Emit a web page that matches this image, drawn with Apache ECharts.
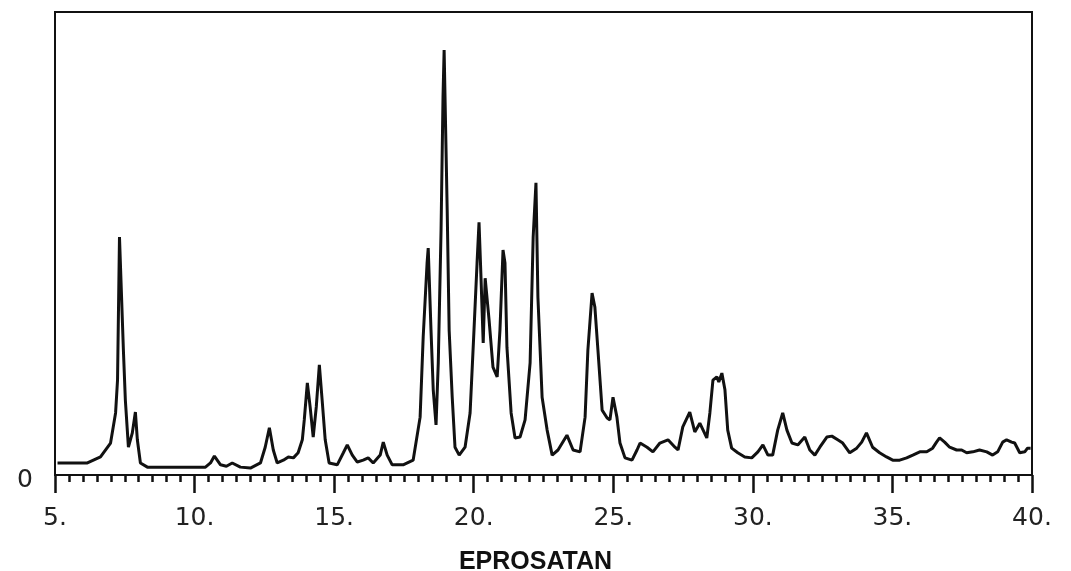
<!DOCTYPE html>
<html>
<head>
<meta charset="utf-8">
<script src="https://cdn.jsdelivr.net/npm/echarts@6/dist/echarts.min.js"></script>
<style>
html,body{margin:0;padding:0;background:#fff;}
#chart{width:1071px;height:571px;}
</style>
</head>
<body>
<div id="chart"></div>
<script>
// 2-theta (degrees)
const twoTheta = [
5.09,6.16,6.63,6.99,7.17,7.24,7.31,7.34,7.45,7.52,7.63,7.77,7.88,7.95,8.06,8.31,
10.39,10.57,10.71,10.93,11.14,11.35,11.64,12.0,12.36,12.53,12.68,12.82,12.96,13.18,13.36,13.54,13.71,13.86,13.93,
14.04,14.14,14.25,14.36,14.47,14.57,14.68,14.82,15.11,15.33,15.47,15.65,15.83,16.04,16.22,16.40,16.65,16.76,16.90,17.08,
17.47,17.83,18.08,18.19,18.33,18.37,18.47,18.55,18.65,18.73,18.83,18.90,18.94,19.05,19.12,19.23,19.33,19.48,19.69,19.87,
20.01,20.12,20.19,20.26,20.34,20.41,20.48,20.55,20.69,20.84,20.94,21.05,21.12,21.19,21.34,21.48,21.66,21.84,
22.02,22.13,22.23,22.30,22.45,22.63,22.81,23.02,23.34,23.56,23.81,23.99,24.09,24.24,24.34,24.45,24.60,24.78,24.88,24.99,
25.13,25.24,25.42,25.67,25.85,25.96,26.21,26.42,26.67,26.96,27.21,27.32,27.49,27.74,27.92,28.10,28.35,28.46,28.57,28.71,
28.78,28.89,29.00,29.10,29.24,29.46,29.71,29.96,30.18,30.36,30.54,30.71,30.89,31.07,31.22,31.40,31.61,31.86,32.04,32.22,
32.40,32.65,32.83,33.04,33.22,33.47,33.72,33.90,34.07,34.29,34.54,34.79,35.01,35.26,35.51,35.73,35.98,36.23,36.44,36.58,
36.69,36.87,37.05,37.30,37.48,37.66,37.88,38.12,38.38,38.59,38.77,38.95,39.09,39.27,39.38,39.56,39.74,39.84,39.95
];
// relative intensity (% of full scale)
const intensity = [
2.6,2.6,3.9,6.9,13.4,20.5,51.4,51.6,27.0,16.2,6.0,9.1,13.6,7.6,2.6,1.7,
1.7,2.6,4.1,2.2,1.9,2.6,1.7,1.5,2.6,6.0,10.2,5.4,2.6,3.2,3.9,3.7,4.8,7.6,11.9,
19.9,14.7,8.2,14.7,23.8,16.2,7.6,2.6,2.2,4.8,6.5,4.3,2.8,3.2,3.7,2.6,4.3,7.1,4.3,2.2,
2.2,3.2,12.5,29.8,45.8,49.0,31.3,18.4,10.8,24.2,52.9,81.6,91.8,57.2,31.3,16.8,6.0,4.3,6.0,13.4,
31.3,45.8,54.6,42.8,28.5,42.5,42.5,33.5,23.3,21.2,31.3,48.6,45.8,27.6,13.4,8.0,8.2,11.9,
24.2,51.4,63.1,38.4,16.8,9.7,4.3,5.4,8.6,5.4,5.0,12.5,27.0,39.3,36.3,27.0,14.0,12.3,11.9,16.8,
12.5,6.9,3.7,3.2,5.4,6.9,6.0,5.0,6.9,7.6,6.0,5.4,10.4,13.6,9.3,11.2,8.0,13.4,20.5,21.2,
20.1,22.0,18.4,9.7,5.8,4.8,3.9,3.7,5.0,6.5,4.3,4.3,9.7,13.4,9.7,6.9,6.5,8.2,5.4,4.3,
6.0,8.2,8.4,7.6,6.9,4.8,5.8,7.1,9.1,6.0,4.8,3.9,3.2,3.2,3.7,4.3,5.0,5.0,5.8,7.1,
8.0,7.1,6.0,5.4,5.4,4.8,5.0,5.4,5.0,4.3,5.0,7.1,7.6,7.1,6.9,4.8,5.0,5.8,5.8
];
const xTicks = [5, 10, 15, 20, 25, 30, 35, 40];
const yLabel = '0';
const titleText = 'EPROSATAN';

const chart = echarts.init(document.getElementById('chart'));
const points = twoTheta.map((t, i) => [t, intensity[i]]);

chart.setOption({
  animation: false,
  backgroundColor: '#ffffff',
  title: {
    text: titleText,
    left: 'center',
    top: 545,
    textStyle: { fontFamily: 'Liberation Sans, Arial, sans-serif', fontWeight: 'bold', fontSize: 25, color: '#111' }
  },
  grid: {
    left: 55, right: 39, top: 12, bottom: 96,
    show: true, borderColor: '#111', borderWidth: 2, backgroundColor: 'transparent'
  },
  xAxis: {
    type: 'value',
    min: xTicks[0], max: xTicks[xTicks.length - 1], interval: 5,
    axisLine: { show: true, lineStyle: { color: '#111', width: 2 } },
    axisTick: { show: true, inside: false, length: 18, lineStyle: { color: '#111', width: 2.5 } },
    minorTick: { show: true, splitNumber: 10, length: 7, lineStyle: { color: '#111', width: 2.5 } },
    splitLine: { show: false },
    axisLabel: {
      margin: 31,
      fontFamily: 'DejaVu Sans, sans-serif', fontSize: 25, color: '#222',
      formatter: v => v + '.'
    }
  },
  yAxis: {
    type: 'value', min: 0, max: 100, interval: 100,
    axisLine: { show: true, lineStyle: { color: '#111', width: 2 } },
    axisTick: { show: false },
    splitLine: { show: false },
    axisLabel: {
      margin: 22, verticalAlign: 'top', lineHeight: 10,
      fontFamily: 'DejaVu Sans, sans-serif', fontSize: 25, color: '#222',
      formatter: v => (v === 0 ? yLabel : '')
    }
  },
  series: [{
    type: 'line',
    data: points,
    showSymbol: false,
    smooth: false,
    lineStyle: { color: '#111', width: 3 },
    z: 3
  }]
});
</script>
</body>
</html>
